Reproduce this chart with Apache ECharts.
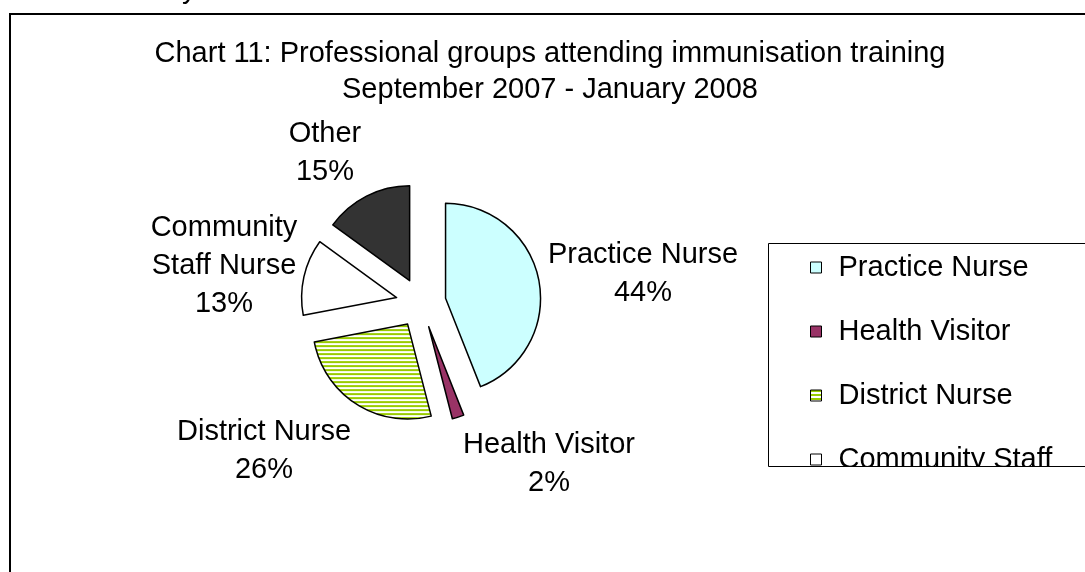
<!DOCTYPE html>
<html>
<head>
<meta charset="utf-8">
<script src="https://cdn.jsdelivr.net/npm/echarts@6/dist/echarts.min.js"></script>
<style>
  html, body { margin: 0; padding: 0; background: #fff; }
  #chart { width: 1085px; height: 572px; }
</style>
</head>
<body>
<div id="chart"></div>
<script>
// 数据
const categories = ['Practice Nurse', 'Health Visitor', 'District Nurse', 'Community Staff Nurse', 'Other']
const shares = [44, 2, 26, 13, 15]

// 样式
const fills = ['#CCFFFF', '#993366', null, '#FFFFFF', '#333333']
// 标签中心位置（仿 Excel 的标签摆放）
const labelSpots = [[643, 274], [549, 464], [264, 451], [224, 266], [325, 153]]
const FONT = '"Liberation Sans", Arial, sans-serif'
const FS = 29

// 绿白横条纹填充
function stripes() {
  const c = document.createElement('canvas')
  c.width = 4
  c.height = 4
  const ctx = c.getContext('2d')
  ctx.fillStyle = '#FFFFFF'
  ctx.fillRect(0, 0, 4, 4)
  ctx.fillStyle = '#99CC00'
  ctx.fillRect(0, 0, 4, 2)
  return c
}

const chart = echarts.init(document.getElementById('chart'))
const pieData = categories.map((name, i) => ({
  name: name,
  value: shares[i],
  selected: true,
  itemStyle: {
    color: fills[i] || { image: stripes(), repeat: 'repeat' }
  }
}))

// 数据标签：名称 + 百分比
const total = shares.reduce((a, b) => a + b, 0)
const pieLabels = categories.map((name, i) => {
  const shown = name === 'Community Staff Nurse' ? 'Community\nStaff Nurse' : name
  return {
    type: 'text',
    z: 50,
    x: labelSpots[i][0],
    y: labelSpots[i][1],
    style: {
      text: shown + '\n' + Math.round(shares[i] / total * 100) + '%',
      font: FS + 'px ' + FONT,
      lineHeight: 38,
      fill: '#000',
      align: 'center',
      verticalAlign: 'middle'
    }
  }
})

const option = {
  backgroundColor: '#fff',
  animation: false,
  title: {
    text: 'Chart 11: Professional groups attending immunisation training\nSeptember 2007 - January 2008',
    left: 545,
    top: 31,
    textAlign: 'center',
    textStyle: {
      fontFamily: FONT,
      fontSize: FS,
      fontWeight: 'normal',
      color: '#000',
      lineHeight: 36
    }
  },
  legend: {
    orient: 'vertical',
    left: 805,
    top: 248,
    itemGap: 35,
    itemWidth: 11,
    itemHeight: 11,
    icon: 'rect',
    selectedMode: false,
    data: categories,
    formatter: (name) => name === 'Community Staff Nurse' ? 'Community Staff' : name,
    textStyle: { fontFamily: FONT, fontSize: FS, lineHeight: 29, color: '#000', padding: [0, 0, 0, 12] },
    itemStyle: { borderColor: '#000', borderWidth: 1 }
  },
  graphic: [
    {
      type: 'rect',
      z: 0,
      shape: { x: 10, y: 14, width: 1100, height: 600 },
      style: { fill: 'none', stroke: '#000', lineWidth: 2 }
    },
    // 图例框之下被裁掉的部分
    {
      type: 'rect',
      z: 100,
      shape: { x: 769, y: 467, width: 330, height: 120 },
      style: { fill: '#fff' }
    },
    {
      type: 'rect',
      z: 101,
      shape: { x: 768.5, y: 243.5, width: 400, height: 223 },
      style: { fill: 'none', stroke: '#000', lineWidth: 1 }
    },
    {
      type: 'text',
      z: 101,
      left: 182,
      top: -25,
      style: { text: 'y', font: FS + 'px ' + FONT, fill: '#000' }
    }
  ].concat(pieLabels),
  series: [
    {
      type: 'pie',
      center: [421, 303],
      radius: 95,
      startAngle: 90,
      clockwise: true,
      selectedMode: 'multiple',
      selectedOffset: 25,
      emphasis: { disabled: true },
      itemStyle: { borderColor: '#000', borderWidth: 1.5 },
      label: { show: false },
      labelLine: { show: false },
      data: pieData
    }
  ]
}
chart.setOption(option)
</script>
</body>
</html>
